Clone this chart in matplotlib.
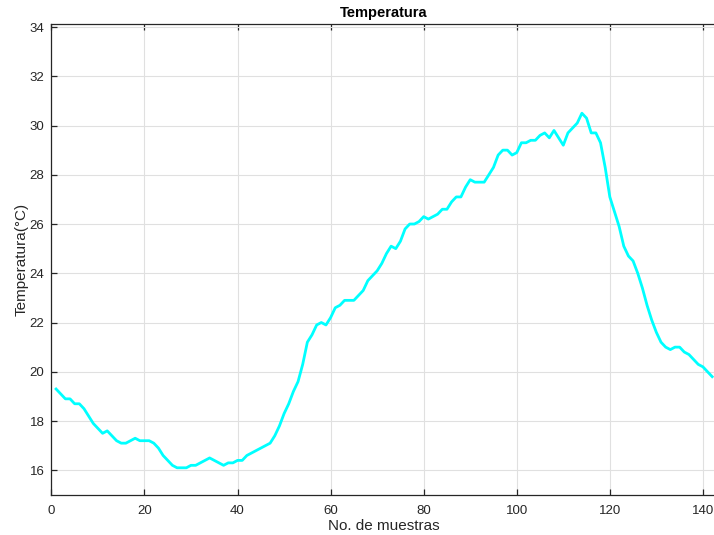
import numpy as np
import matplotlib.pyplot as plt

plt.rcParams['font.family'] = ['Liberation Sans', 'DejaVu Sans']

# temperatura por muestra
temperatura = [
    19.3, 19.1, 18.9, 18.9, 18.7, 18.7, 18.5, 18.2, 17.9, 17.7,
    17.5, 17.6, 17.4, 17.2, 17.1, 17.1, 17.2, 17.3, 17.2, 17.2,
    17.2, 17.1, 16.9, 16.6, 16.4, 16.2, 16.1, 16.1, 16.1, 16.2,
    16.2, 16.3, 16.4, 16.5, 16.4, 16.3, 16.2, 16.3, 16.3, 16.4,
    16.4, 16.6, 16.7, 16.8, 16.9, 17.0, 17.1, 17.4, 17.8, 18.3,
    18.7, 19.2, 19.6, 20.3, 21.2, 21.5, 21.9, 22.0, 21.9, 22.2,
    22.6, 22.7, 22.9, 22.9, 22.9, 23.1, 23.3, 23.7, 23.9, 24.1,
    24.4, 24.8, 25.1, 25.0, 25.3, 25.8, 26.0, 26.0, 26.1, 26.3,
    26.2, 26.3, 26.4, 26.6, 26.6, 26.9, 27.1, 27.1, 27.5, 27.8,
    27.7, 27.7, 27.7, 28.0, 28.3, 28.8, 29.0, 29.0, 28.8, 28.9,
    29.3, 29.3, 29.4, 29.4, 29.6, 29.7, 29.5, 29.8, 29.5, 29.2,
    29.7, 29.9, 30.1, 30.5, 30.3, 29.7, 29.7, 29.3, 28.3, 27.1,
    26.5, 25.9, 25.1, 24.7, 24.5, 24.0, 23.4, 22.7, 22.1, 21.6,
    21.2, 21.0, 20.9, 21.0, 21.0, 20.8, 20.7, 20.5, 20.3, 20.2,
    20.0, 19.8,
]
muestras = np.arange(1, len(temperatura) + 1)
yticks = [16, 18, 20, 22, 24, 26, 28, 30, 32, 34]
xticks = [0, 20, 40, 60, 80, 100, 120, 140]

fig = plt.figure(figsize=(7.14, 5.35), dpi=100)
# the right border of the box falls just outside the picture
ax = fig.add_axes([0.072, 0.075, 0.932, 0.880])

ax.plot(muestras, temperatura, color=(0, 1, 1), linewidth=2)

ax.set_xlim(0, 143)
ax.set_ylim(15, 34.12)
ax.set_xticks(xticks)
ax.set_yticks(yticks)
ax.grid(True, color='#e0e0e0', linewidth=0.8)
ax.set_axisbelow(True)
ax.tick_params(direction='in', length=4, width=0.9, color='#262626',
               labelcolor='#262626', labelsize=9.5, top=True, right=False)
ax.tick_params(axis='x', pad=7)
ax.tick_params(axis='y', pad=5)
for s in ax.spines.values():
    s.set_color('#262626')
    s.set_linewidth(0.9)

ax.set_title('Temperatura', fontsize=10.5, fontweight='bold', pad=5)
ax.set_xlabel('No. de muestras', fontsize=11, color='#262626', labelpad=2)
ax.set_ylabel('Temperatura(°C)', fontsize=11, color='#262626', labelpad=1)

fig.savefig('out.png', dpi=100)
